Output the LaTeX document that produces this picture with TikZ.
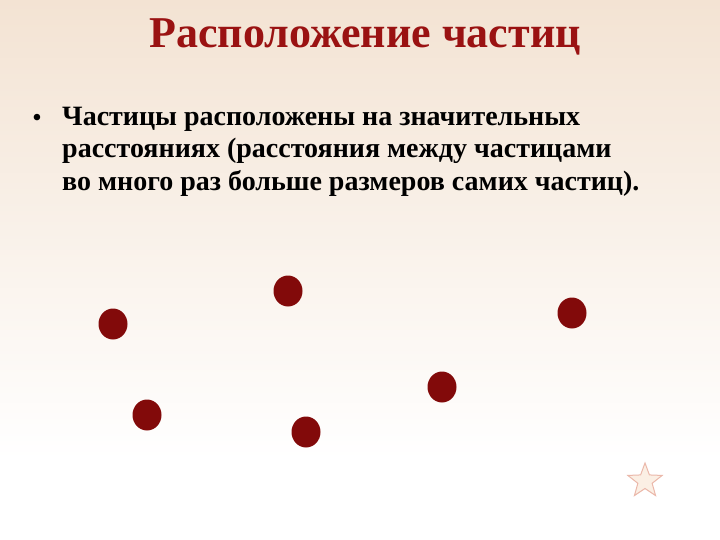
\documentclass[tikz,border=0pt]{standalone}
\usepackage{fontspec}
\setmainfont{Liberation Serif}
\usetikzlibrary{shapes.geometric}
\definecolor{bgtop}{HTML}{F3E3D3}
\definecolor{titlered}{HTML}{9A1212}
\definecolor{dotred}{HTML}{820A0A}
\definecolor{starfill}{HTML}{FBEFE4}
\definecolor{starline}{HTML}{EBB8AA}
\tikzset{
  particle/.style={ellipse, fill=dotred, minimum width=29pt, minimum height=31pt, inner sep=0pt},
  bodytext/.style={anchor=base west, inner sep=0pt, font=\fontsize{28}{33}\selectfont\bfseries, text=black}
}
\begin{document}
\begin{tikzpicture}[x=1pt,y=1pt]
\useasboundingbox (0,0) rectangle (720,-540);
\shade[top color=bgtop, bottom color=white] (0,0) rectangle (720,-460);
\fill[white] (0,-460) rectangle (720,-540);
\node[anchor=base, inner sep=0pt, font=\fontsize{44}{48}\selectfont\bfseries, text=titlered] (title) at (365,-48) {Расположение частиц};
\node[anchor=base, inner sep=0pt, font=\fontsize{24}{33}\selectfont\bfseries] (bullet) at (37,-126) {•};
\node[bodytext] (l1) at (62,-126) {Частицы расположены на значительных};
\node[bodytext] (l2) at (62,-158) {расстояниях (расстояния между частицами};
\node[bodytext] (l3) at (62,-191) {во много раз больше размеров самих частиц).};
\node[particle] (p1) at (288,-291) {};
\node[particle] (p2) at (113,-324) {};
\node[particle] (p3) at (147,-415) {};
\node[particle] (p4) at (306,-432) {};
\node[particle] (p5) at (572,-313) {};
\node[particle] (p6) at (442,-387) {};
\node[star, star points=5, star point ratio=2.4, minimum size=36pt, inner sep=0pt, fill=starfill, draw=starline, line width=1pt] (star) at (645,-481) {};
\end{tikzpicture}
\end{document}
